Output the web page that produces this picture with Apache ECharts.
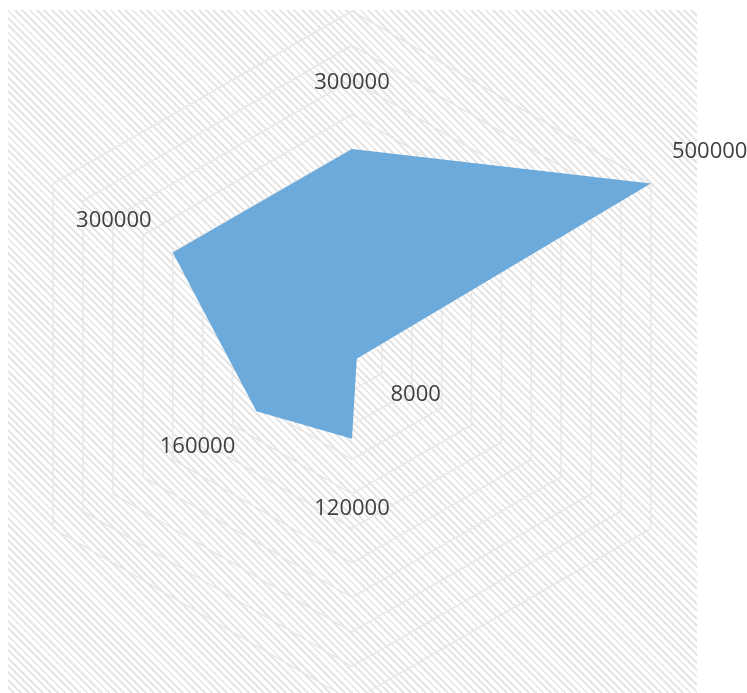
<!DOCTYPE html>
<html>
<head>
<meta charset="utf-8">
<script src="https://cdn.jsdelivr.net/npm/echarts@6/dist/echarts.min.js"></script>
<style>
  html, body { margin: 0; padding: 0; background: #ffffff; }
  #wrap { position: relative; width: 747px; height: 693px; overflow: hidden; }
  #hatch { position: absolute; left: 8px; top: 10px; width: 689px; height: 683px;
    background: repeating-linear-gradient(45deg, #ffffff 0px, #ffffff 3.2px, #e6e6e6 3.2px, #e6e6e6 5.2px); }
  #chart { position: absolute; left: 0; top: 0; width: 747px; height: 693px; }
</style>
</head>
<body>
<div id="wrap"><div id="hatch"></div><div id="chart"></div></div>
<script>
// Categories in the reference's clockwise order, starting at the top
const categories = ['1', '2', '3', '4', '5', '6'];
const values = [300000, 500000, 8000, 120000, 160000, 300000];
const axisMax = 500000;
const axisInterval = 50000;

// ECharts radar lays indicators out counter-clockwise from the top
const order = [0, 5, 4, 3, 2, 1];
const cx = 352, cy = 356;

const chart = echarts.init(document.getElementById('chart'), null, { renderer: 'canvas' });
chart.setOption({
  animation: false,
  backgroundColor: 'transparent',
  radar: {
    center: [cx, cy],
    radius: 345,
    startAngle: 90,
    splitNumber: axisMax / axisInterval,
    shape: 'polygon',
    indicator: order.map(i => ({ name: categories[i], min: 0, max: axisMax })),
    axisName: { show: false },
    axisLine: { show: false },
    axisTick: { show: false },
    axisLabel: { show: false },
    splitArea: { show: false },
    splitLine: { lineStyle: { color: '#e8e8e8', width: 1.5 } }
  },
  series: [{
    type: 'radar',
    symbol: 'circle',
    symbolSize: 0.5,
    lineStyle: { width: 0, color: '#6BAADB' },
    itemStyle: { color: '#6BAADB' },
    areaStyle: { color: '#6BAADB', opacity: 1 },
    label: {
      show: true,
      color: '#404040',
      fontFamily: 'Open Sans',
      fontSize: 22
    },
    labelLayout: function (p) {
      const px = p.rect.x + p.rect.width / 2;
      const py = p.rect.y + p.rect.height / 2;
      // snap to the six axis directions (90, 30, -30, -90, -150, 150 degrees)
      const raw = Math.atan2(-(py - cy), px - cx);
      const snapped = Math.round((raw - Math.PI / 6) / (Math.PI / 3)) * (Math.PI / 3) + Math.PI / 6;
      const d = 68;
      return {
        x: px + Math.cos(snapped) * d,
        y: py - Math.sin(snapped) * d + 2,
        align: 'center',
        verticalAlign: 'middle'
      };
    },
    data: [{ value: order.map(i => values[i]) }]
  }]
});
</script>
</body>
</html>
